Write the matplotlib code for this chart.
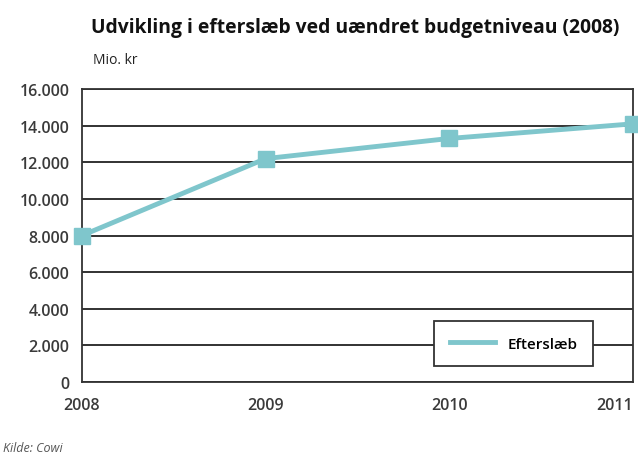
import matplotlib.pyplot as plt
from matplotlib.ticker import FuncFormatter

plt.rcParams['font.family'] = ['Open Sans', 'DejaVu Sans']

years = [2008, 2009, 2010, 2011]
efterslaeb = [8000, 12200, 13300, 14100]
yticks = [0, 2000, 4000, 6000, 8000, 10000, 12000, 14000, 16000]

fig = plt.figure(figsize=(6.38, 4.64), dpi=100)
ax = fig.add_axes([0.1285, 0.1746, 0.864, 0.6314])

ax.plot(years, efterslaeb, color='#7fc6cc', lw=3.5, marker='s', ms=11,
        label='Efterslæb', clip_on=False, zorder=3)

ax.set_xlim(2008, 2011)
ax.set_ylim(0, 16000)
ax.set_yticks(yticks)
ax.set_xticks(years)
ax.yaxis.set_major_formatter(FuncFormatter(lambda v, p: f'{int(v):,}'.replace(',', '.')))
ax.grid(axis='y', color='#222222', lw=1.3)
ax.set_axisbelow(True)
for s in ax.spines.values():
    s.set_color('#333333')
    s.set_linewidth(1.3)
ax.tick_params(length=0, labelsize=11.5, colors='#3a3a3a', pad=9)
ax.tick_params(axis='x', pad=11)
for lbl in ax.get_xticklabels() + ax.get_yticklabels():
    lbl.set_fontweight('semibold')
ax.get_xticklabels()[-1].set_horizontalalignment('right')

leg = ax.legend(loc='lower right', bbox_to_anchor=(0.927, 0.055), fancybox=False,
                edgecolor='#333333', framealpha=1, borderaxespad=0,
                prop={'size': 11, 'weight': 'semibold'},
                handlelength=3.0, borderpad=1.0, markerscale=0)
leg.get_frame().set_linewidth(1.3)
for h in leg.legend_handles:
    h.set_marker('')

fig.text(0.142, 0.928, 'Udvikling i efterslæb ved uændret budgetniveau (2008)',
         fontsize=13.9, fontweight='bold', color='#111111')
fig.text(0.145, 0.863, 'Mio. kr', fontsize=10, color='#222222')
fig.text(0.005, 0.025, 'Kilde: Cowi', fontsize=9, style='italic', color='#555555')

fig.savefig('out.png', dpi=100)
